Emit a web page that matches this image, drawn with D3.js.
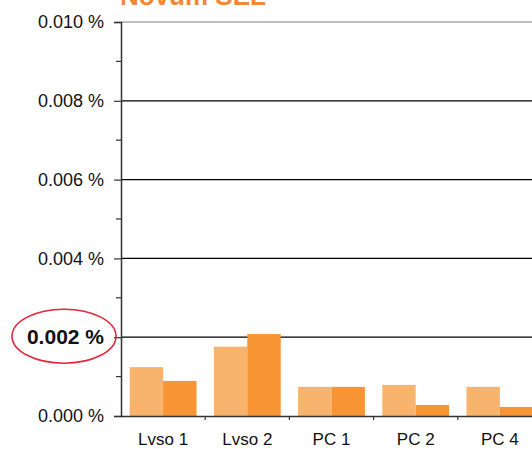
<!DOCTYPE html>
<html>
<head>
<meta charset="utf-8">
<script src="https://cdn.jsdelivr.net/npm/d3@7"></script>
<style>
  body { margin: 0; background: #fff; }
  svg { display: block; font-family: "Liberation Sans", Arial, sans-serif; }
</style>
</head>
<body>
<div id="chart"></div>
<script>
const categories = ["Lvso 1", "Lvso 2", "PC 1", "PC 2", "PC 4"];
const seriesLight = [0.00124, 0.00176, 0.00074, 0.00079, 0.00074];
const seriesDark = [0.00089, 0.00208, 0.00074, 0.00028, 0.00023];
const majorTicks = [0, 0.002, 0.004, 0.006, 0.008, 0.010];
const minorTicks = [0.001, 0.003, 0.005, 0.007, 0.009];
const titleText = "Novum SEL";

const width = 532, height = 449;
const margin = {top: 22, right: -10, bottom: 33, left: 121};

const svg = d3.select("#chart")
    .append("svg")
    .attr("width", width)
    .attr("height", height);

const xScale = d3.scaleBand()
    .domain(categories)
    .range([margin.left, width - margin.right]);

const yScale = d3.scaleLinear()
    .domain([0, 0.010])
    .range([height - margin.bottom, margin.top]);

const inner = d3.scaleBand()
    .domain(["light", "dark"])
    .range([0, xScale.bandwidth()])
    .paddingOuter(0.26)
    .paddingInner(0);

// gridlines
svg.append("g")
    .selectAll("line")
    .data(majorTicks.filter(d => d > 0))
    .join("line")
    .attr("x1", margin.left)
    .attr("x2", width)
    .attr("y1", d => yScale(d))
    .attr("y2", d => yScale(d))
    .attr("stroke", d => d === 0.010 ? "#808080" : "#000")
    .attr("stroke-width", 1.2);

// bars
categories.forEach((c, i) => {
    const x = xScale(c);
    svg.append("rect")
        .attr("x", x + inner("light"))
        .attr("y", yScale(seriesLight[i]))
        .attr("width", inner.bandwidth())
        .attr("height", yScale(0) - yScale(seriesLight[i]))
        .attr("fill", "#F8B46C");
    svg.append("rect")
        .attr("x", x + inner("dark"))
        .attr("y", yScale(seriesDark[i]))
        .attr("width", inner.bandwidth())
        .attr("height", yScale(0) - yScale(seriesDark[i]))
        .attr("fill", "#F79433");
});

// y axis
const yAxis = svg.append("g")
    .attr("transform", `translate(${margin.left},0)`)
    .call(d3.axisLeft(yScale)
        .tickValues(majorTicks)
        .tickSize(7)
        .tickPadding(10)
        .tickFormat(d => d3.format(".3f")(d) + " %"));
yAxis.select(".domain").attr("stroke", "#333").attr("stroke-width", 1.5);
yAxis.selectAll(".tick line").attr("stroke", "#333").attr("stroke-width", 1.2);
yAxis.selectAll(".tick text")
    .attr("font-size", d => d === 0.002 ? 21 : 18)
    .attr("fill", "#111")
    .attr("font-family", "Liberation Sans, Arial, sans-serif")
    .attr("font-weight", d => d === 0.002 ? "bold" : "normal");

svg.append("g")
    .selectAll("line")
    .data(minorTicks)
    .join("line")
    .attr("x1", margin.left - 5)
    .attr("x2", margin.left)
    .attr("y1", d => yScale(d))
    .attr("y2", d => yScale(d))
    .attr("stroke", "#333")
    .attr("stroke-width", 1.2);

// x axis
const xAxis = svg.append("g")
    .attr("transform", `translate(0,${yScale(0)})`)
    .call(d3.axisBottom(xScale).tickSize(0).tickPadding(17));
xAxis.select(".domain").attr("stroke", "#333").attr("stroke-width", 1.5);
xAxis.selectAll(".tick text")
    .attr("font-size", 17)
    .attr("fill", "#111")
    .attr("font-family", "Liberation Sans, Arial, sans-serif");

svg.append("g")
    .selectAll("line")
    .data(categories.slice(1))
    .join("line")
    .attr("x1", d => xScale(d))
    .attr("x2", d => xScale(d))
    .attr("y1", yScale(0))
    .attr("y2", yScale(0) + 4)
    .attr("stroke", "#333")
    .attr("stroke-width", 1.2);

// highlight ellipse
svg.append("ellipse")
    .attr("cx", 64)
    .attr("cy", yScale(0.002) - 1)
    .attr("rx", 52)
    .attr("ry", 27)
    .attr("fill", "none")
    .attr("stroke", "#E0283C")
    .attr("stroke-width", 1.6);

// title (cut off at the top)
svg.append("text")
    .attr("x", 120)
    .attr("y", 5)
    .attr("font-size", 26)
    .attr("font-weight", "bold")
    .attr("fill", "#F0883A")
    .text(titleText);
</script>
</body>
</html>
